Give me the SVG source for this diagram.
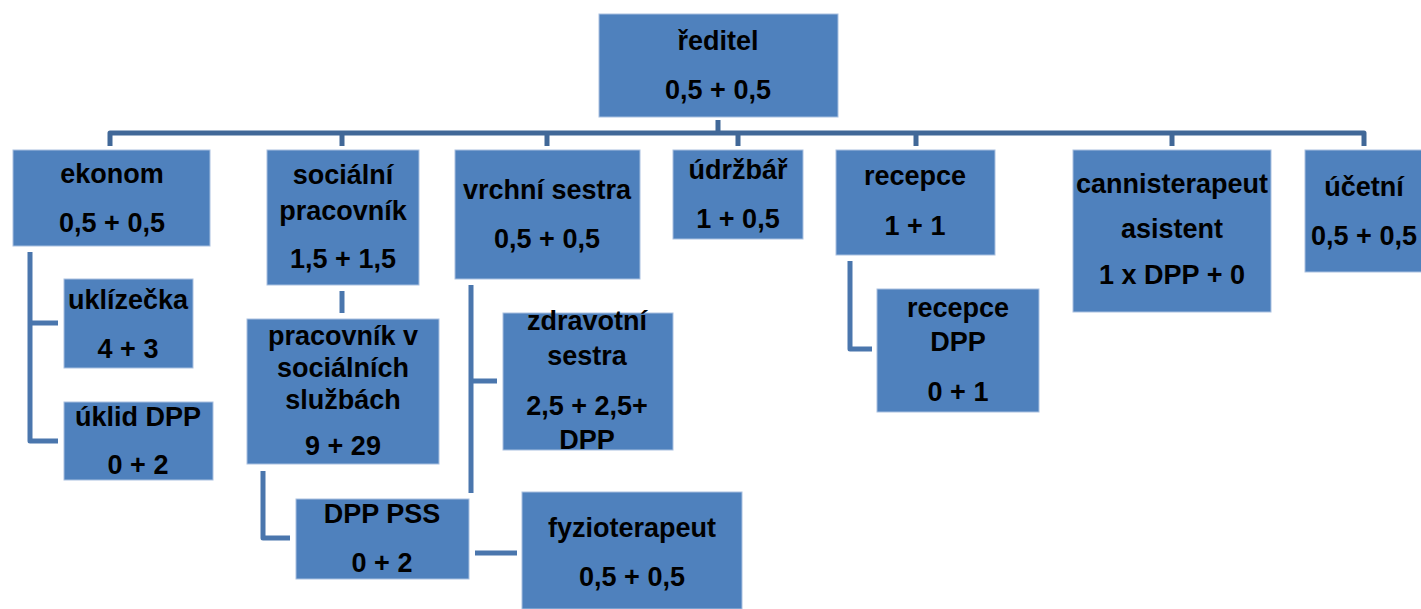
<svg xmlns="http://www.w3.org/2000/svg" width="1421" height="609" viewBox="0 0 1421 609">
<style>
.box{fill:#4f81bd;stroke:#a9c0e0;stroke-width:1}
.t{font-family:"Liberation Sans",Arial,sans-serif;font-weight:bold;font-size:27px;fill:#000;text-anchor:middle}
.bus{stroke:#416898;stroke-width:5;fill:none;stroke-linejoin:round}
.ln{stroke:#4a76ad;stroke-width:5;fill:none;stroke-linejoin:round}
</style>
<rect width="1421" height="609" fill="#fff"/>
<g id="connectors">
<path class="bus" d="M718,120 V133 M110,146 V133 H1364 V146 M342,133 V146 M547,133 V146 M738,133 V146 M916,133 V146 M1172,133 V146"/>
<path class="ln" d="M30,252 V441 H58 M30,323 H58"/>
<path class="ln" d="M342,291 V313"/>
<path class="ln" d="M263,471 V538 H290"/>
<path class="ln" d="M471,285 V493 M471,381 H497 M475,553 H517"/>
<path class="ln" d="M850,261 V349 H872"/>
</g>
<g id="reditel"><rect class="box" x="599" y="14" width="239" height="103"/><text class="t" x="718" y="50">ředitel</text><text class="t" x="718" y="99">0,5 + 0,5</text></g>
<g id="ekonom"><rect class="box" x="13" y="150" width="197" height="96"/><text class="t" x="112" y="183">ekonom</text><text class="t" x="112" y="232">0,5 + 0,5</text></g>
<g id="socialni"><rect class="box" x="267" y="150" width="152" height="135"/><text class="t" x="343" y="184">sociální</text><text class="t" x="343" y="220">pracovník</text><text class="t" x="343" y="268">1,5 + 1,5</text></g>
<g id="vrchni"><rect class="box" x="455" y="150" width="185" height="129"/><text class="t" x="547" y="199">vrchní sestra</text><text class="t" x="547" y="248">0,5 + 0,5</text></g>
<g id="udrzbar"><rect class="box" x="673" y="150" width="130" height="89"/><text class="t" x="738" y="179">údržbář</text><text class="t" x="738" y="228">1 + 0,5</text></g>
<g id="recepce"><rect class="box" x="836" y="150" width="159" height="105"/><text class="t" x="915" y="185">recepce</text><text class="t" x="915" y="235">1 + 1</text></g>
<g id="cannis"><rect class="box" x="1073" y="150" width="198" height="162"/><text class="t" x="1172" y="193">cannisterapeut</text><text class="t" x="1172" y="238">asistent</text><text class="t" x="1172" y="284">1 x DPP + 0</text></g>
<g id="ucetni"><rect class="box" x="1305" y="150" width="120" height="122"/><text class="t" x="1364" y="196">účetní</text><text class="t" x="1364" y="245">0,5 + 0,5</text></g>
<g id="uklizecka"><rect class="box" x="64" y="279" width="129" height="89"/><text class="t" x="128" y="309">uklízečka</text><text class="t" x="128" y="358">4 + 3</text></g>
<g id="uklid"><rect class="box" x="64" y="402" width="149" height="78"/><text class="t" x="138" y="426">úklid DPP</text><text class="t" x="138" y="474">0 + 2</text></g>
<g id="pss"><rect class="box" x="247" y="319" width="192" height="145"/><text class="t" x="343" y="345">pracovník v</text><text class="t" x="343" y="377">sociálních</text><text class="t" x="343" y="409">službách</text><text class="t" x="343" y="455">9 + 29</text></g>
<g id="dpppss"><rect class="box" x="296" y="499" width="173" height="80"/><text class="t" x="382" y="523">DPP PSS</text><text class="t" x="382" y="572">0 + 2</text></g>
<g id="zdravotni"><rect class="box" x="503" y="313" width="170" height="137"/><text class="t" x="587" y="330">zdravotní</text><text class="t" x="587" y="365">sestra</text><text class="t" x="587" y="415">2,5 + 2,5+</text><text class="t" x="587" y="449">DPP</text></g>
<g id="fyzio"><rect class="box" x="522" y="492" width="220" height="117"/><text class="t" x="632" y="537">fyzioterapeut</text><text class="t" x="632" y="586">0,5 + 0,5</text></g>
<g id="recepcedpp"><rect class="box" x="877" y="289" width="162" height="123"/><text class="t" x="958" y="317">recepce</text><text class="t" x="958" y="351">DPP</text><text class="t" x="958" y="401">0 + 1</text></g>
</svg>
